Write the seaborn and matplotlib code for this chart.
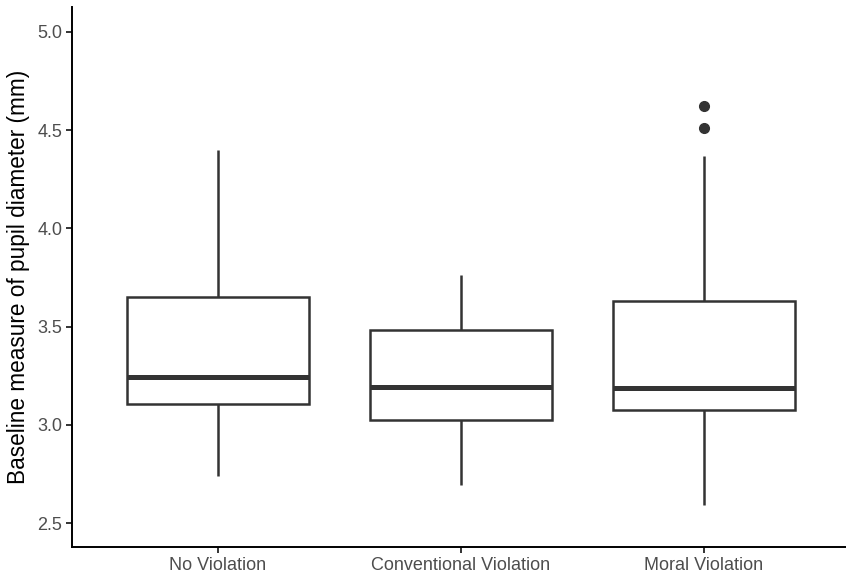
import matplotlib
matplotlib.use("Agg")
import matplotlib.pyplot as plt
import seaborn as sns
import pandas as pd

# Condition names, in display order
categories = ["No Violation", "Conventional Violation", "Moral Violation"]

# Five-number summaries of baseline pupil diameter (mm) per condition
whisker_low = [2.739, 2.693, 2.592]
q1 = [3.106, 3.024, 3.075]
median = [3.245, 3.191, 3.189]
q3 = [3.649, 3.483, 3.632]
whisker_high = [4.400, 3.763, 4.369]
outliers = [[], [], [4.513, 4.623]]

y_ticks = [2.5, 3.0, 3.5, 4.0, 4.5, 5.0]
y_label = "Baseline measure of pupil diameter (mm)"

# Long-form table whose quartiles and whisker ends reproduce the summaries
rows = []
for i, cat in enumerate(categories):
    vals = ([whisker_low[i]] + [q1[i]] * 3 + [median[i]] * 3 + [q3[i]] * 3
            + [whisker_high[i]] + outliers[i])
    rows += [(cat, v) for v in vals]
df = pd.DataFrame(rows, columns=["condition", "diameter"])

sns.set_theme(style="white")
plt.rcParams["font.family"] = ["Liberation Sans", "DejaVu Sans"]

W, H = 846, 578
fig = plt.figure(figsize=(W / 100, H / 100), dpi=100)
ax = fig.add_axes([72 / W, (H - 547) / H, (W - 72) / W, 540 / H])

line_col = "#333333"
sns.boxplot(
    data=df, x="condition", y="diameter", order=categories, ax=ax,
    width=0.75, color="white", linecolor=line_col, linewidth=1.8,
    whis=1.5,
    medianprops=dict(color=line_col, linewidth=3.6, solid_capstyle="butt"),
    capprops=dict(linewidth=0),
    flierprops=dict(marker="o", markersize=7, markerfacecolor=line_col,
                    markeredgecolor=line_col),
)

ax.set_xlim(-0.6, 2.585)
ax.set_ylim(2.378, 5.127)
ax.set_yticks(y_ticks)
ax.set_yticklabels([f"{t:.1f}" for t in y_ticks])
ax.set_xlabel("")
ax.set_ylabel(y_label, fontsize=16.3, color="black", labelpad=5)

for side in ["top", "right"]:
    ax.spines[side].set_visible(False)
for side in ["left", "bottom"]:
    ax.spines[side].set_color("black")
    ax.spines[side].set_linewidth(1.4)

ax.tick_params(axis="both", which="major", direction="out", length=4,
               width=1.4, color=line_col, labelcolor="#4D4D4D",
               labelsize=13, bottom=True, left=True, pad=3)

fig.savefig("out.png", dpi=100, facecolor="white")
